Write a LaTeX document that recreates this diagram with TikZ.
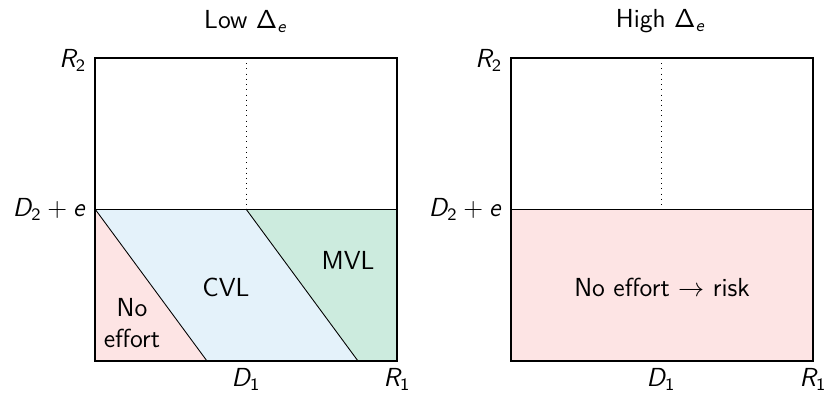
\documentclass[tikz,border=0pt]{standalone}
\DeclareMathAlphabet{\mathsfit}{OT1}{cmss}{m}{sl}
\renewcommand{\familydefault}{\sfdefault}
\newcommand{\sv}[1]{\mathsfit{#1}}
\newcommand{\sd}{\mathsf{\Delta}}
\definecolor{noeff}{RGB}{253,228,228}
\definecolor{cvl}{RGB}{228,242,250}
\definecolor{mvl}{RGB}{204,235,222}
\tikzset{
  frame/.style={draw=black, line width=0.8pt},
  thinline/.style={draw=black, line width=0.4pt},
  lbl/.style={inner sep=2pt},
}
\begin{document}
\begin{tikzpicture}[x=0.46pt, y=-0.46pt, font=\sffamily\fontsize{12}{14.4}\selectfont]
\useasboundingbox (0,0) rectangle (824,392);
% ---------- left panel ----------
\coordinate (LTL) at (95,58);
\coordinate (LML) at (95,209);
\coordinate (LMM) at (246,209);
\coordinate (LMR) at (397,209);
\coordinate (LBL) at (95,361);
\coordinate (LBA) at (207,361);
\coordinate (LBB) at (358,361);
\coordinate (LBR) at (397,361);
\coordinate (LTM) at (246,58);
\fill[noeff] (LML) -- (LBA) -- (LBL) -- cycle;
\fill[cvl] (LML) -- (LMM) -- (LBB) -- (LBA) -- cycle;
\fill[mvl] (LMM) -- (LMR) -- (LBR) -- (LBB) -- cycle;
\draw[thinline] (LML) -- (LMR);
\draw[thinline] (LML) -- (LBA);
\draw[thinline] (LMM) -- (LBB);
\draw[thinline, dotted] (LTM) -- (LMM);
\draw[frame] (LTL) rectangle (LBR);
\node[lbl] (ltitle) at (246,21) {Low $\sd_{\sv{e}}$};
\node[lbl, anchor=east] (lR2) at (91,60) {$\sv{R}_{\mathsf{2}}$};
\node[lbl, anchor=east] (lD2) at (91,209) {$\sv{D}_{\mathsf{2}}+\sv{e}$};
\node[lbl, anchor=north] (lD1) at (246,364) {$\sv{D}_{\mathsf{1}}$};
\node[lbl, anchor=north] (lR1) at (397,364) {$\sv{R}_{\mathsf{1}}$};
\node[lbl, align=center] (lno) at (132,323) {No\\effort};
\node[lbl] (lcvl) at (226,287) {CVL};
\node[lbl] (lmvl) at (348,260) {MVL};
% ---------- right panel ----------
\coordinate (RTL) at (511,58);
\coordinate (RTM) at (661,58);
\coordinate (RML) at (511,209);
\coordinate (RMM) at (661,209);
\coordinate (RMR) at (813,209);
\coordinate (RBR) at (813,361);
\fill[noeff] (RML) rectangle (RBR);
\draw[thinline] (RML) -- (RMR);
\draw[thinline, dotted] (RTM) -- (RMM);
\draw[frame] (RTL) rectangle (RBR);
\node[lbl] (rtitle) at (661,21) {High $\sd_{\sv{e}}$};
\node[lbl, anchor=east] (rR2) at (507,60) {$\sv{R}_{\mathsf{2}}$};
\node[lbl, anchor=east] (rD2) at (507,209) {$\sv{D}_{\mathsf{2}}+\sv{e}$};
\node[lbl, anchor=north] (rD1) at (661,364) {$\sv{D}_{\mathsf{1}}$};
\node[lbl, anchor=north] (rR1) at (813,364) {$\sv{R}_{\mathsf{1}}$};
\node[lbl] (rno) at (662,287) {No effort $\to$ risk};
\end{tikzpicture}
\end{document}
